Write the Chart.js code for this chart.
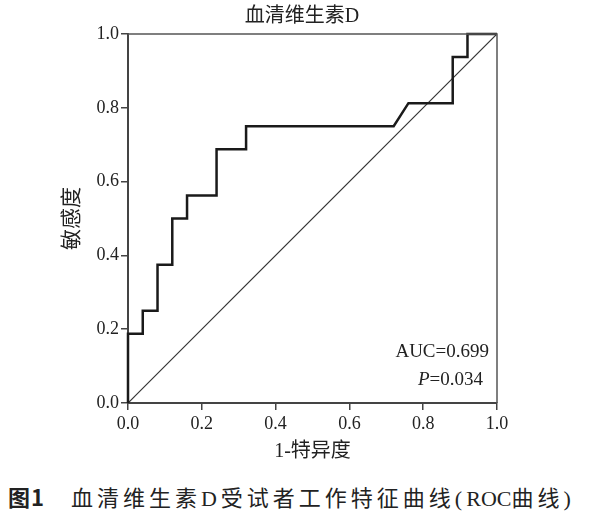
<!DOCTYPE html>
<html>
<head>
<meta charset="utf-8">
<script src="https://cdn.jsdelivr.net/npm/chart.js@4.4.1/dist/chart.umd.min.js"></script>
<style>
  body { margin: 0; background: #fff; }
  #wrap { position: relative; width: 592px; height: 470px; }
  #caption {
    position: absolute; top: 480px; left: 8px;
    font-family: "Liberation Serif", "Noto Sans CJK SC", serif;
    font-size: 22px; color: #222; white-space: nowrap;
  }
  #caption b { font-family: "Noto Sans CJK SC", sans-serif; font-weight: bold; margin-right: 26px; letter-spacing: 1px; }
  #caption span { letter-spacing: 4px; }
  #caption i { font-style: normal; letter-spacing: 0; }
</style>
</head>
<body>
<div id="wrap"><canvas id="roc"></canvas></div>
<div id="caption"><b>图1</b><span>血清维生素D受试者工作特征曲线(<i>ROC</i>曲线)</span></div>
<script>
// ROC curve (1-specificity, sensitivity)
var fprValues = [0, 0, 0.04, 0.04, 0.08, 0.08, 0.12, 0.12, 0.16, 0.16, 0.24, 0.24, 0.32, 0.32, 0.72, 0.76, 0.88, 0.88, 0.92, 0.92, 1];
var tprValues = [0, 0.1875, 0.1875, 0.25, 0.25, 0.375, 0.375, 0.5, 0.5, 0.5625, 0.5625, 0.6875, 0.6875, 0.75, 0.75, 0.8125, 0.8125, 0.9375, 0.9375, 1, 1];

// reference line
var diagX = [0, 1];
var diagY = [0, 1];

var chartTitle = '血清维生素D';
var xTitle = '1-特异度';
var yTitle = '敏感度';
var aucText = 'AUC=0.699';
var pValue = '=0.034';

var serif = '"Liberation Serif", "Noto Sans CJK SC", serif';

var rocPoints = fprValues.map(function (x, i) { return {x: x, y: tprValues[i]}; });
var diagPoints = diagX.map(function (x, i) { return {x: x, y: diagY[i]}; });

// title, box and AUC text
var extras = {
    id: 'extras',
    afterDraw: function (chart) {
        var ctx = chart.ctx;
        var a = chart.chartArea;
        ctx.save();
        ctx.strokeStyle = '#555';
        ctx.lineWidth = 1.5;
        ctx.beginPath();
        ctx.moveTo(a.left, a.top);
        ctx.lineTo(a.right, a.top);
        ctx.lineTo(a.right, a.bottom);
        ctx.stroke();

        ctx.fillStyle = '#222';
        ctx.textBaseline = 'middle';
        ctx.textAlign = 'center';
        ctx.font = '20px ' + serif;
        ctx.fillText(chartTitle, 302, 17);

        ctx.textAlign = 'right';
        ctx.font = '19px ' + serif;
        ctx.fillText(aucText, a.right - 8, 352);
        var w = ctx.measureText(pValue).width;
        ctx.fillText(pValue, a.right - 14, 380);
        ctx.font = 'italic 19px ' + serif;
        ctx.fillText('P', a.right - 14 - w, 380);
        ctx.restore();
    }
};

new Chart(document.getElementById('roc'), {
    type: 'line',
    data: {
        datasets: [{
            data: rocPoints,
            borderColor: '#1a1a1a',
            borderWidth: 2.5,
            pointRadius: 0,
            tension: 0,
            clip: 4
        }, {
            data: diagPoints,
            borderColor: '#333',
            borderWidth: 1.2,
            pointRadius: 0,
            tension: 0
        }]
    },
    options: {
        responsive: true,
        maintainAspectRatio: false,
        animation: false,
        layout: { padding: { left: 0, right: 95, top: 34, bottom: 0 } },
        plugins: {
            legend: { display: false },
            tooltip: { enabled: false }
        },
        scales: {
            x: {
                type: 'linear',
                min: 0, max: 1,
                afterFit: function (s) { s.height = 67; },
                grid: { drawOnChartArea: false, drawTicks: true, tickLength: 7, color: '#444', lineWidth: 1.5 },
                border: { display: true, color: '#444', width: 2 },
                ticks: {
                    stepSize: 0.2, padding: 3, color: '#222',
                    font: { family: serif, size: 18 },
                    callback: function (v) { return v.toFixed(1); }
                },
                title: { display: true, text: xTitle, color: '#222', font: { family: serif, size: 20 }, padding: { top: 0, bottom: 6 } }
            },
            y: {
                type: 'linear',
                min: 0, max: 1,
                afterFit: function (s) { s.width = 128; },
                grid: { drawOnChartArea: false, drawTicks: true, tickLength: 7, color: '#444', lineWidth: 1.5 },
                border: { display: true, color: '#444', width: 2 },
                ticks: {
                    stepSize: 0.2, padding: 2, color: '#222',
                    font: { family: serif, size: 18 },
                    callback: function (v) { return v.toFixed(1); }
                },
                title: { display: true, text: yTitle, color: '#222', font: { family: serif, size: 21 }, padding: { top: 60, bottom: 0 } }
            }
        }
    },
    plugins: [extras]
});
</script>
</body>
</html>
